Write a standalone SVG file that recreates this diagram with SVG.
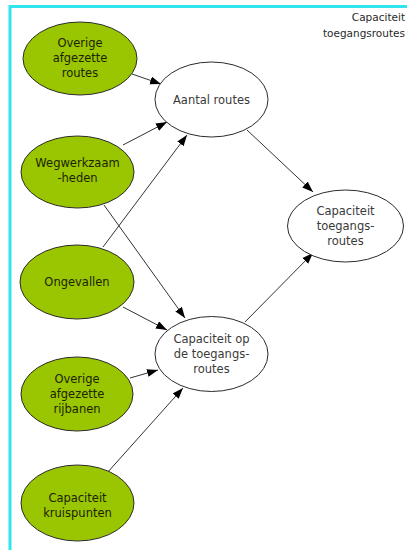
<svg xmlns="http://www.w3.org/2000/svg" width="407" height="550" viewBox="0 0 407 550">
  <style>
    .frame { fill: none; stroke: #2fe6ec; stroke-width: 3; }
    .input ellipse { fill: #99c600; stroke: #2b2b2b; stroke-width: 1; }
    .calc ellipse { fill: #ffffff; stroke: #2b2b2b; stroke-width: 1; }
    text { font-family: "DejaVu Sans", Verdana, sans-serif; font-size: 11.5px; text-anchor: middle; }
    .input text { fill: #1c2300; }
    .calc text { fill: #3a3a3a; }
    .title { font-size: 10.5px; text-anchor: end; fill: #2a2a2a; }
    .edges line { stroke: #333333; stroke-width: 1; marker-end: url(#arrow); }
  </style>
  <defs>
    <marker id="arrow" markerUnits="userSpaceOnUse" markerWidth="12" markerHeight="10" refX="11" refY="4" orient="auto">
      <path d="M0,0 L11,4 L0,8 Z" fill="#000000"/>
    </marker>
  </defs>

  <rect class="frame" x="10" y="6.5" width="500" height="600"/>

  <g id="title">
    <text class="title" x="405" y="21">Capaciteit</text>
    <text class="title" x="405" y="37">toegangsroutes</text>
  </g>

  <g class="edges" id="connectors">
    <line x1="132" y1="74" x2="161" y2="84"/>
    <line x1="123" y1="145" x2="167" y2="122"/>
    <line x1="103" y1="247" x2="187" y2="135"/>
    <line x1="104" y1="205" x2="185" y2="318"/>
    <line x1="123" y1="307" x2="167" y2="330"/>
    <line x1="130" y1="378" x2="158" y2="370"/>
    <line x1="107" y1="473" x2="183" y2="388"/>
    <line x1="247" y1="130" x2="313" y2="192"/>
    <line x1="245" y1="322" x2="313" y2="253"/>
  </g>

  <g id="overige-afgezette-routes" class="input">
    <ellipse cx="80" cy="58.5" rx="57" ry="36.5"/>
    <text x="80" y="47">Overige</text>
    <text x="80" y="62">afgezette</text>
    <text x="80" y="77">routes</text>
  </g>

  <g id="wegwerkzaamheden" class="input">
    <ellipse cx="77.5" cy="172" rx="56.5" ry="36"/>
    <text x="77.5" y="167">Wegwerkzaam</text>
    <text x="77.5" y="182">-heden</text>
  </g>

  <g id="ongevallen" class="input">
    <ellipse cx="77" cy="282" rx="57" ry="37"/>
    <text x="77" y="286">Ongevallen</text>
  </g>

  <g id="overige-afgezette-rijbanen" class="input">
    <ellipse cx="77" cy="394" rx="56" ry="37"/>
    <text x="77" y="383">Overige</text>
    <text x="77" y="398">afgezette</text>
    <text x="77" y="413">rijbanen</text>
  </g>

  <g id="capaciteit-kruispunten" class="input">
    <ellipse cx="77.5" cy="503" rx="56.5" ry="38"/>
    <text x="77.5" y="502">Capaciteit</text>
    <text x="77.5" y="517">kruispunten</text>
  </g>

  <g id="aantal-routes" class="calc">
    <ellipse cx="211.5" cy="99.5" rx="56.5" ry="37.5"/>
    <text x="211.5" y="104">Aantal routes</text>
  </g>

  <g id="capaciteit-op-toegangsroutes" class="calc">
    <ellipse cx="211.5" cy="354" rx="56.5" ry="37.5"/>
    <text x="211.5" y="343">Capaciteit op</text>
    <text x="211.5" y="358">de toegangs-</text>
    <text x="211.5" y="373">routes</text>
  </g>

  <g id="capaciteit-toegangsroutes" class="calc">
    <ellipse cx="345.5" cy="226" rx="58" ry="36"/>
    <text x="345.5" y="215">Capaciteit</text>
    <text x="345.5" y="230">toegangs-</text>
    <text x="345.5" y="245">routes</text>
  </g>
</svg>
